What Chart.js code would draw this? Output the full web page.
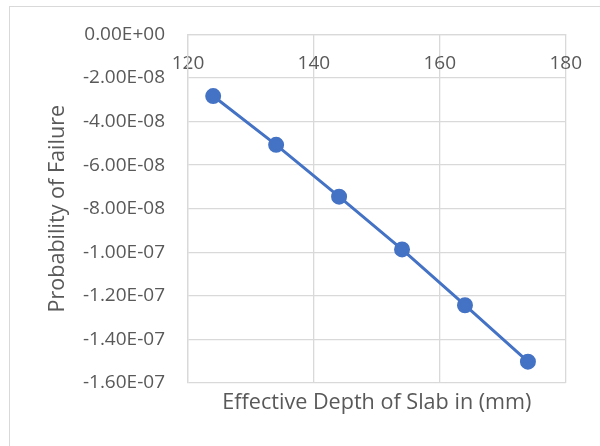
<!DOCTYPE html>
<html>
<head>
<meta charset="utf-8">
<script src="https://cdn.jsdelivr.net/npm/chart.js@4"></script>
<style>
  html, body { margin: 0; padding: 0; background: #fff; }
  #wrap { position: relative; width: 600px; height: 446px; overflow: hidden; }
  #frame { position: absolute; left: 9px; top: 6px; width: 700px; height: 600px;
           border-left: 1px solid #d9d9d9; border-top: 1px solid #d9d9d9; }
  canvas { position: absolute; left: 0; top: 0; }
</style>
</head>
<body>
<div id="wrap">
  <div id="frame"></div>
  <canvas id="slabChart" width="600" height="446"></canvas>
</div>
<script>
// effective depth (mm) vs probability of failure
const depths = [124, 134, 144, 154, 164, 174];
const failureProb = [-2.83e-8, -5.07e-8, -7.45e-8, -9.87e-8, -1.243e-7, -1.502e-7];
const xTicks = [120, 140, 160, 180];
const yTicks = [0, -2e-8, -4e-8, -6e-8, -8e-8, -1e-7, -1.2e-7, -1.4e-7, -1.6e-7];

const gray = '#595959';
const gridGray = '#d9d9d9';
const fontFamily = '"Open Sans", Lato, sans-serif';

// Excel style scientific labels, e.g. -2.00E-08
function sci(v) {
    if (Math.abs(v) < 1e-20) return '0.00E+00';
    let s = v.toExponential(2).toUpperCase();
    return s.replace(/E([+-])(\d)$/, 'E$10$2');
}

const ctx = document.getElementById('slabChart').getContext('2d');

new Chart(ctx, {
    type: 'scatter',
    data: {
        datasets: [{
            data: depths.map((d, i) => ({ x: d, y: failureProb[i] })),
            showLine: true,
            borderColor: '#4472C4',
            backgroundColor: '#4472C4',
            borderWidth: 3,
            pointRadius: 6.5,
            pointHoverRadius: 6.5
        }]
    },
    options: {
        responsive: false,
        animation: false,
        layout: { padding: { left: 41, top: 33, right: 33, bottom: 26 } },
        plugins: {
            legend: { display: false },
            tooltip: { enabled: false }
        },
        scales: {
            x: {
                type: 'linear',
                position: { y: 0 },
                min: 120,
                max: 180,
                afterBuildTicks: (scale) => { scale.ticks = xTicks.map(v => ({ value: v })); },
                grid: { color: gridGray, lineWidth: 1.3, drawTicks: false },
                border: { color: gridGray, width: 1.3 },
                ticks: {
                    color: gray,
                    padding: 18,
                    font: { family: fontFamily, size: 19 }
                }
            },
            xTitle: {
                type: 'linear',
                position: 'bottom',
                min: 120,
                max: 180,
                grid: { display: false, drawTicks: false },
                border: { display: false },
                ticks: { display: false },
                title: {
                    display: true,
                    text: 'Effective Depth of Slab in (mm)',
                    color: gray,
                    font: { family: fontFamily, size: 21.6 }
                },
                afterFit: (scale) => { scale.height = 37; }
            },
            y: {
                type: 'linear',
                min: -1.6e-7,
                max: 0,
                afterBuildTicks: (scale) => { scale.ticks = yTicks.map(v => ({ value: v })); },
                grid: { color: gridGray, lineWidth: 1.3, drawTicks: false },
                border: { color: gridGray, width: 1.3 },
                ticks: {
                    color: gray,
                    padding: 23,
                    font: { family: fontFamily, size: 19 },
                    callback: (v) => sci(v)
                },
                title: {
                    display: true,
                    text: 'Probability of Failure',
                    color: gray,
                    font: { family: fontFamily, size: 21.6 }
                },
                afterFit: (scale) => { scale.width = 147; }
            }
        }
    }
});
</script>
</body>
</html>
